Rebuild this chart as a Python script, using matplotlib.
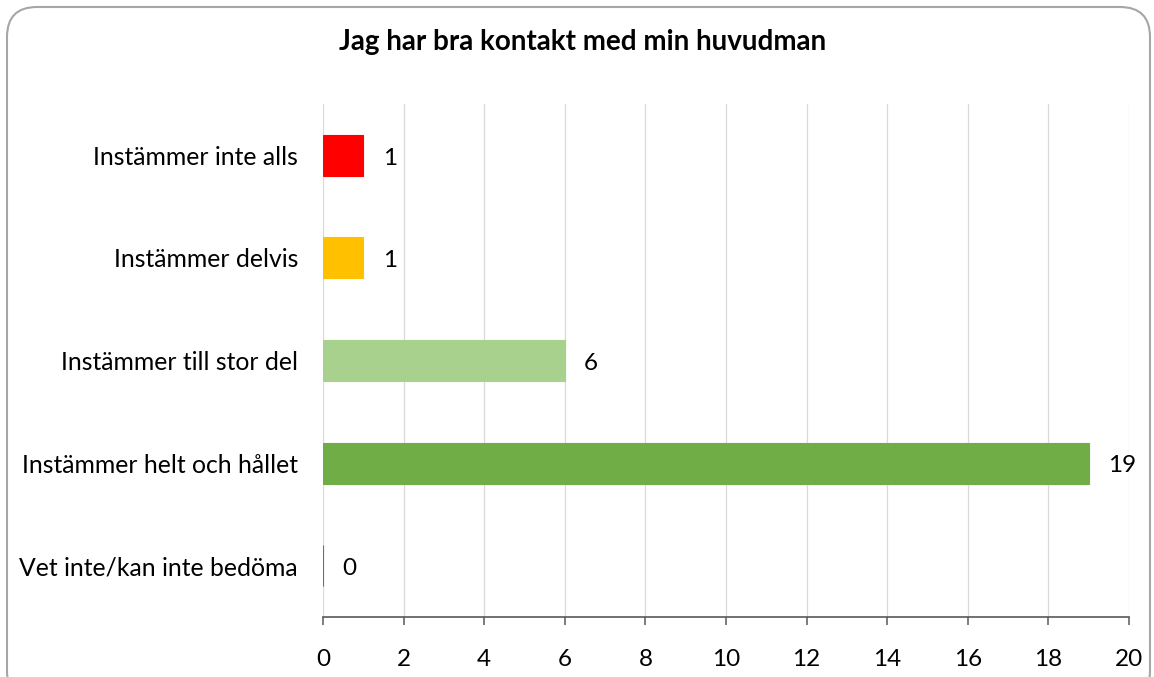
import matplotlib
matplotlib.use("Agg")
import matplotlib.pyplot as plt
from matplotlib.patches import FancyBboxPatch

title = "Jag har bra kontakt med min huvudman"
categories = ["Instämmer inte alls", "Instämmer delvis", "Instämmer till stor del",
              "Instämmer helt och hållet", "Vet inte/kan inte bedöma"]
values = [1, 1, 6, 19, 0]
colors = ["#FF0000", "#FFC000", "#A9D18E", "#70AD47", "#4472C4"]
xticks = [0, 2, 4, 6, 8, 10, 12, 14, 16, 18, 20]

W, H = 1154, 677
plt.rcParams['font.family'] = ['Lato', 'DejaVu Sans']
fig = plt.figure(figsize=(W / 100, H / 100), dpi=100)

# outer rounded frame (pixel coordinates)
frame = FancyBboxPatch((7, -24), 1143, 670 + 24, boxstyle="round,pad=0,rounding_size=30",
                       transform=None, facecolor="none", edgecolor="#A6A6A6",
                       linewidth=1.5, zorder=5)
fig.patches.append(frame)

ax = fig.add_axes([323 / W, 1 - 617 / H, (1129 - 323) / W, (617 - 104) / H])
ax.patch.set_alpha(0)
ypos = list(range(len(categories)))
ax.barh(ypos, values, height=0.4, color=colors, edgecolor=colors, linewidth=0.8, zorder=3)
for y, v in zip(ypos, values):
    ax.annotate(str(v), (v, y), xytext=(14, -2), textcoords="offset points",
                ha="left", va="center", fontsize=17.5, color="black")

ax.set_xlim(0, 20)
ax.set_ylim(len(categories) - 0.5, -0.5)
ax.set_xticks(xticks)
ax.set_xticklabels([str(t) for t in xticks], fontsize=17.5)
ax.set_yticks(ypos)
ax.set_yticklabels(categories, fontsize=17.8)
ax.tick_params(axis="y", length=0, pad=18)
ax.tick_params(axis="x", length=6, width=1.1, direction="out", color="#595959", pad=17)
ax.grid(axis="x", color="#D9D9D9", linewidth=0.9, zorder=0)
ax.set_axisbelow(True)
for s in ["top", "right", "left"]:
    ax.spines[s].set_visible(False)
ax.spines["bottom"].set_color("#595959")
ax.spines["bottom"].set_linewidth(1.2)

fig.text(583 / W, 1 - 42 / H, title, ha="center", va="center", fontsize=20, fontweight="bold")

fig.savefig("out.png", dpi=100)
